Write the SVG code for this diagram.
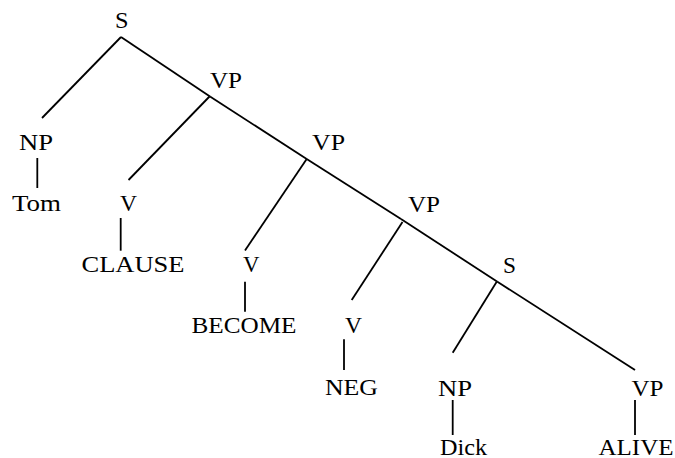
<svg xmlns="http://www.w3.org/2000/svg" width="675" height="458" viewBox="0 0 675 458">
<style>
text{font-family:'Times New Roman','Liberation Serif',Tinos,'Nimbus Roman',Times,serif;font-size:24px;fill:#000}
.e line{stroke:#000;stroke-width:1.8;fill:none}
</style>
<rect width="675" height="458" fill="#fff"/>
<g class="e" id="connectors">
<line x1="121" y1="37" x2="42" y2="118"/>
<line x1="121" y1="37" x2="210" y2="96.5"/>
<line x1="209.5" y1="96.5" x2="128.5" y2="180"/>
<line x1="210" y1="96.5" x2="306.7" y2="159"/>
<line x1="306.7" y1="159" x2="245" y2="250.5"/>
<line x1="306.7" y1="159" x2="401" y2="219"/>
<line x1="402.5" y1="222" x2="351.7" y2="300"/>
<line x1="401" y1="219" x2="497" y2="281.5"/>
<line x1="496.7" y1="281.7" x2="452.7" y2="352.7"/>
<line x1="497" y1="281.5" x2="635" y2="370"/>
<line x1="37.3" y1="158" x2="37.3" y2="188"/>
<line x1="120.7" y1="218" x2="120.7" y2="250.7"/>
<line x1="245" y1="281.7" x2="245" y2="311.7"/>
<line x1="344" y1="339.3" x2="344" y2="370"/>
<line x1="452.7" y1="400" x2="452.7" y2="435"/>
<line x1="635" y1="400" x2="635" y2="435"/>
</g>
<g id="S"><text x="115" y="27.5" textLength="13.5" lengthAdjust="spacingAndGlyphs">S</text></g>
<g id="NP1"><text x="19" y="150" textLength="34" lengthAdjust="spacingAndGlyphs">NP</text></g>
<g id="Tom"><text x="12" y="210.5" textLength="49" lengthAdjust="spacingAndGlyphs">Tom</text></g>
<g id="VP1"><text x="210" y="88" textLength="32" lengthAdjust="spacingAndGlyphs">VP</text></g>
<g id="V1"><text x="120" y="211" textLength="17" lengthAdjust="spacingAndGlyphs">V</text></g>
<g id="CLAUSE"><text x="81.5" y="272" textLength="103" lengthAdjust="spacingAndGlyphs">CLAUSE</text></g>
<g id="VP2"><text x="312" y="150" textLength="33" lengthAdjust="spacingAndGlyphs">VP</text></g>
<g id="V2"><text x="243" y="272" textLength="16.5" lengthAdjust="spacingAndGlyphs">V</text></g>
<g id="BECOME"><text x="191.5" y="333" textLength="105" lengthAdjust="spacingAndGlyphs">BECOME</text></g>
<g id="VP3"><text x="408" y="211.5" textLength="32" lengthAdjust="spacingAndGlyphs">VP</text></g>
<g id="V3"><text x="345" y="333" textLength="17" lengthAdjust="spacingAndGlyphs">V</text></g>
<g id="NEG"><text x="325" y="395" textLength="53" lengthAdjust="spacingAndGlyphs">NEG</text></g>
<g id="S2"><text x="503" y="272.5" textLength="13" lengthAdjust="spacingAndGlyphs">S</text></g>
<g id="NP2"><text x="438" y="395.5" textLength="34" lengthAdjust="spacingAndGlyphs">NP</text></g>
<g id="Dick"><text x="440" y="454.5" textLength="47" lengthAdjust="spacingAndGlyphs">Dick</text></g>
<g id="VP4"><text x="631.5" y="395.5" textLength="32" lengthAdjust="spacingAndGlyphs">VP</text></g>
<g id="ALIVE"><text x="598.5" y="454.5" textLength="75" lengthAdjust="spacingAndGlyphs">ALIVE</text></g>
</svg>
